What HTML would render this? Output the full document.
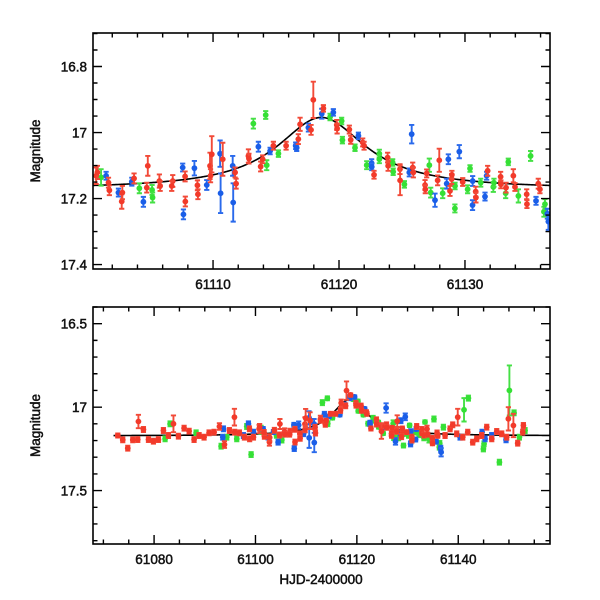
<!DOCTYPE html>
<html><head><meta charset="utf-8"><style>
html,body{margin:0;padding:0;background:#fff;}
svg{display:block;}
text{font-family:"Liberation Sans",Arial,sans-serif;fill:#111;}
</style></head><body>
<svg id="chart" width="600" height="600" viewBox="0 0 600 600" xmlns="http://www.w3.org/2000/svg"></svg>
<script>
// ---- data: [HJD, magnitude, error] ----
const redData = [
[61072.84,17.170,0.012],[61073.82,17.196,0.015],[61074.81,17.246,0.015],[61075.80,17.196,0.015],[61076.78,17.194,0.015],[61076.91,17.086,0.040],[61077.90,17.134,0.015],[61078.89,17.194,0.015],[61079.87,17.204,0.015],[61080.86,17.194,0.015],[61081.84,17.140,0.015],[61082.83,17.170,0.015],[61083.82,17.100,0.050],[61084.80,17.174,0.015],[61085.92,17.126,0.015],[61086.91,17.144,0.015],[61087.89,17.194,0.015],[61088.88,17.170,0.015],[61089.86,17.180,0.015],[61090.85,17.154,0.015],[61091.84,17.150,0.015],[61092.89,17.116,0.020],[61093.88,17.224,0.020],[61094.86,17.140,0.015],[61095.85,17.060,0.050],[61095.90,17.150,0.015],[61096.83,17.154,0.015],[61097.82,17.180,0.015],[61098.81,17.130,0.015],[61098.85,17.190,0.015],[61099.60,17.180,0.015],
[61100.72,17.131,0.025],[61100.82,17.121,0.020],[61101.77,17.175,0.015],[61101.70,17.152,0.015],[61102.75,17.209,0.022],[61102.80,17.182,0.020],[61103.73,17.139,0.015],[61104.82,17.101,0.030],[61104.74,17.167,0.015],[61105.74,17.147,0.020],[61105.80,17.162,0.015],[61106.80,17.147,0.018],[61106.72,17.162,0.015],[61107.78,17.133,0.015],[61107.80,17.209,0.015],[61108.76,17.160,0.015],[61108.80,17.187,0.015],[61109.76,17.101,0.040],[61109.80,17.131,0.020],[61109.90,17.066,0.055],[61110.77,17.081,0.050],[61111.75,17.121,0.015],[61111.83,17.155,0.015],[61112.81,17.071,0.020],[61112.85,17.079,0.015],[61113.78,17.103,0.015],[61113.94,17.081,0.012],[61114.79,17.040,0.012],[61115.80,17.040,0.012],[61116.77,17.020,0.015],[61116.91,16.975,0.020],[61117.78,16.992,0.015],[61117.96,16.901,0.055],[61118.76,16.927,0.010],[61119.82,16.977,0.015],[61119.85,16.988,0.015],[61120.82,16.991,0.012],[61120.93,17.022,0.012],[61121.88,17.030,0.012],[61121.99,17.040,0.012],[61122.78,17.128,0.012],[61123.86,17.076,0.015],[61123.90,17.101,0.015],[61124.84,17.111,0.015],[61124.85,17.145,0.045],[61125.85,17.106,0.015],[61125.90,17.121,0.015],[61126.83,17.159,0.015],[61126.85,17.172,0.012],[61126.96,17.124,0.012],[61127.83,17.145,0.015],[61127.96,17.084,0.035],[61128.81,17.177,0.015],[61128.94,17.141,0.015],[61128.96,17.128,0.012],[61129.82,17.150,0.012],[61130.85,17.179,0.015],[61130.87,17.197,0.015],[61131.80,17.116,0.015],[61132.83,17.134,0.015],[61132.85,17.157,0.012],[61133.26,17.167,0.015],[61133.84,17.131,0.020],[61133.97,17.165,0.012],[61134.90,17.187,0.015],[61134.92,17.217,0.012],[61135.82,17.155,0.015],[61135.95,17.172,0.012],
[61137.40,17.170,0.015],[61138.39,17.130,0.015],[61138.91,17.106,0.015],[61139.70,17.160,0.015],[61139.90,17.060,0.050],[61140.89,17.180,0.015],[61141.87,17.150,0.015],[61142.86,17.210,0.015],[61143.65,17.190,0.015],[61144.63,17.170,0.015],[61145.62,17.120,0.015],[61146.61,17.190,0.015],[61147.59,17.146,0.015],[61148.58,17.160,0.015],[61149.56,17.180,0.015],[61149.89,17.070,0.070],[61150.88,17.110,0.070],[61151.73,17.216,0.015],[61152.72,17.150,0.015],[61152.85,17.110,0.015]
];
const blueData = [
[61093.68,17.130,0.015],[61093.55,17.180,0.015],[61097.62,17.170,0.015],[61098.61,17.100,0.015],[61099.60,17.150,0.015],
[61101.51,17.131,0.012],[61102.49,17.182,0.012],[61103.55,17.149,0.012],[61104.47,17.210,0.015],[61107.59,17.106,0.012],[61107.65,17.248,0.015],[61108.52,17.108,0.022],[61109.50,17.159,0.015],[61110.56,17.064,0.040],[61110.60,17.184,0.060],[61111.56,17.101,0.030],[61111.60,17.212,0.058],[61113.60,17.043,0.015],[61114.53,17.056,0.010],[61116.56,17.040,0.010],[61116.64,17.046,0.010],[61117.57,16.985,0.012],[61118.63,16.943,0.015],[61119.55,16.939,0.010],[61121.54,17.010,0.010],[61122.59,17.093,0.012],[61122.60,17.104,0.010],[61125.58,17.121,0.012],[61125.77,17.005,0.028],[61127.62,17.205,0.020],[61128.68,17.081,0.015],[61128.55,17.155,0.015],[61129.55,17.058,0.020],[61130.61,17.147,0.015],[61130.60,17.220,0.015],[61131.59,17.194,0.012],[61131.72,17.131,0.012],[61135.64,17.207,0.012],[61136.54,17.246,0.015],[61136.62,17.270,0.025],
[61140.36,17.180,0.015],[61144.70,17.150,0.015],[61145.29,17.190,0.015],[61149.43,17.196,0.015],[61146.60,17.170,0.015]
];
const greenData = [
[61082.17,17.190,0.015],[61083.16,17.100,0.015],[61088.29,17.154,0.015],[61093.22,17.234,0.015],[61094.34,17.180,0.015],[61096.31,17.190,0.015],[61099.14,17.284,0.015],[61098.28,17.116,0.015],
[61101.11,17.136,0.025],[61104.15,17.169,0.015],[61105.16,17.174,0.015],[61105.20,17.197,0.015],[61113.20,16.973,0.015],[61114.18,16.947,0.012],[61114.26,17.099,0.015],[61115.19,17.064,0.010],[61119.29,16.953,0.010],[61120.21,16.965,0.010],[61120.27,17.023,0.010],[61121.27,17.046,0.010],[61122.20,17.099,0.012],[61123.20,17.064,0.012],[61123.20,17.081,0.012],[61124.26,17.091,0.010],[61124.30,17.119,0.010],[61125.19,17.157,0.010],[61127.17,17.099,0.020],[61127.28,17.182,0.015],[61128.23,17.184,0.015],[61129.21,17.162,0.010],[61129.20,17.230,0.012],[61130.21,17.172,0.012],[61130.40,17.109,0.010],[61131.25,17.152,0.012],[61132.25,17.165,0.015],[61132.30,17.152,0.012],[61133.23,17.184,0.015],[61133.44,17.089,0.010],[61134.24,17.192,0.020],[61135.21,17.071,0.015],[61136.27,17.240,0.015],[61136.35,17.217,0.015],
[61137.07,17.120,0.015],[61141.14,17.016,0.070],[61142.00,16.946,0.015],[61144.96,17.250,0.015],[61148.12,17.330,0.015],[61150.09,16.900,0.150],[61151.01,17.034,0.015],[61152.06,17.180,0.015],[61153.18,17.140,0.015],[61145.09,17.220,0.015]
];
// model: [t0, baseline mag, flux excess at peak, width (days)]
const modelParams = [61118.6, 17.172, 0.222, 4.1];
// axis ticks
const topXTicks = [61110, 61120, 61130];
const topYTicks = [16.8, 17, 17.2, 17.4];
const topYLabels = ["16.8", "17", "17.2", "17.4"];
const botXTicks = [61080, 61100, 61120, 61140];
const botYTicks = [16.5, 17, 17.5];
const botYLabels = ["16.5", "17", "17.5"];

const NS = "http://www.w3.org/2000/svg";
const svg = document.getElementById("chart");
function mk(tag, attrs, parent) {
  const e = document.createElementNS(NS, tag);
  for (const k in attrs) e.setAttribute(k, attrs[k]);
  (parent || svg).appendChild(e);
  return e;
}
function modelMag(t) {
  const d = (t - modelParams[0]) / modelParams[3];
  const f = 1 + modelParams[2] / (1 + d * d);
  return modelParams[1] - 2.5 * Math.log10(f);
}
const colors = {green: ["#35e035", "#45e045"], blue: ["#1a5ee8", "#2a6aec"], red: ["#f23a2a", "#f24a38"]};

function panel(cfg) {
  const g = mk("g", {});
  
  
  const L = 93, R = 550, T = cfg.top, B = cfg.bottom;
  const xs = t => L + (t - cfg.x0) / (cfg.x1 - cfg.x0) * (R - L);
  const ys = m => T + (m - cfg.y0) / (cfg.y1 - cfg.y0) * (B - T);
  const defs = mk("defs", {}, g);
  const cp = mk("clipPath", {id: cfg.name + "-clip"}, defs);
  mk("rect", {x: L, y: T, width: R - L, height: B - T}, cp);
  const plot = mk("g", {"clip-path": "url(#" + cfg.name + "-clip)"}, g);
  
  
  let d = "";
  const ms = Math.max(cfg.x0, cfg.modelStart);
  for (let i = 0; i <= 400; i++) {
    const t = ms + (cfg.x1 - ms) * i / 400;
    d += (i ? "L" : "M") + xs(t).toFixed(2) + "," + ys(modelMag(t)).toFixed(2);
  }
  const ml = mk("path", {d: d, fill: "none", stroke: "#000", "stroke-width": 1.6}, plot);
  
  
  [["green", greenData], ["blue", blueData], ["red", redData]].forEach(([c, arr]) => {
    const sg = mk("g", {}, plot);
    
    
    arr.forEach(p => {
      const x = xs(p[0]), y = ys(p[1]), y1 = ys(p[1] - p[2]), y2 = ys(p[1] + p[2]);
      const pg = mk("g", {}, sg);
      
      
      mk("path", {d: `M${x},${y1}L${x},${y2}M${x-2.6},${y1}L${x+2.6},${y1}M${x-2.6},${y2}L${x+2.6},${y2}`, stroke: colors[c][1], "stroke-width": 1.9, fill: "none"}, pg);
      mk("circle", {cx: x, cy: y, r: 2.9, fill: colors[c][0]}, pg);
    });
  });
  const fr = mk("rect", {x: L, y: T, width: R - L, height: B - T, fill: "none", stroke: "#000", "stroke-width": 1.6}, g);
  
  
  let td = "";
  for (let v = Math.ceil(cfg.x0 / cfg.xMinor) * cfg.xMinor; v <= cfg.x1; v += cfg.xMinor) {
    const major = Math.abs(v / cfg.xMajor - Math.round(v / cfg.xMajor)) < 1e-6;
    const len = major ? 9 : 4.5, x = xs(v);
    td += `M${x},${B}L${x},${B-len}M${x},${T}L${x},${T+len}`;
  }
  const ny = Math.round((cfg.y1 - cfg.y0) / cfg.yMinor) + 2;
  for (let i = -1; i < ny; i++) {
    const v = Math.round((Math.ceil(cfg.y0 / cfg.yMinor) + i) * cfg.yMinor * 1000) / 1000;
    if (v < cfg.y0 || v > cfg.y1) continue;
    const major = Math.abs(v / cfg.yMajor - Math.round(v / cfg.yMajor)) < 1e-6;
    const len = major ? 9 : 4.5, y = ys(v);
    td += `M${L},${y}L${L+len},${y}M${R},${y}L${R-len},${y}`;
  }
  const tk = mk("path", {d: td, stroke: "#000", "stroke-width": 1.4, fill: "none"}, g);
  
  
  cfg.xTicks.forEach(v => {
    const t = mk("text", {x: xs(v), y: B + 20, "text-anchor": "middle", "font-size": 13.5, stroke: "#111", "stroke-width": 0.5}, g);
    t.textContent = String(v);
    
    
  });
  cfg.yTicks.forEach((v, i) => {
    const t = mk("text", {x: L - 6, y: ys(v) + 5, "text-anchor": "end", "font-size": 13.5, stroke: "#111", "stroke-width": 0.5}, g);
    t.textContent = cfg.yLabels[i];
    
    
  });
  const cy = (T + B) / 2;
  const yt = mk("text", {x: 40, y: cy, "text-anchor": "middle", "font-size": 13.5, stroke: "#111", "stroke-width": 0.5, transform: `rotate(-90 40 ${cy})`}, g);
  yt.textContent = "Magnitude";
  
  
}

panel({name: "zoom-panel", top: 33, bottom: 269, x0: 61100.47, x1: 61136.75, y0: 16.6985, y1: 17.4135,
  xMinor: 2, xMajor: 10, yMinor: 0.05, yMajor: 0.2, xTicks: topXTicks, yTicks: topYTicks, yLabels: topYLabels, modelStart: 61000});
panel({name: "full-panel", top: 307, bottom: 544, x0: 61067.95, x1: 61158.1, y0: 16.4, y1: 17.82,
  xMinor: 5, xMajor: 20, yMinor: 0.1, yMajor: 0.5, xTicks: botXTicks, yTicks: botYTicks, yLabels: botYLabels, modelStart: 61072});
const xt = mk("text", {x: 321, y: 584, "text-anchor": "middle", "font-size": 13.5, stroke: "#111", "stroke-width": 0.5});
xt.textContent = "HJD-2400000";


</script>
</body></html>
